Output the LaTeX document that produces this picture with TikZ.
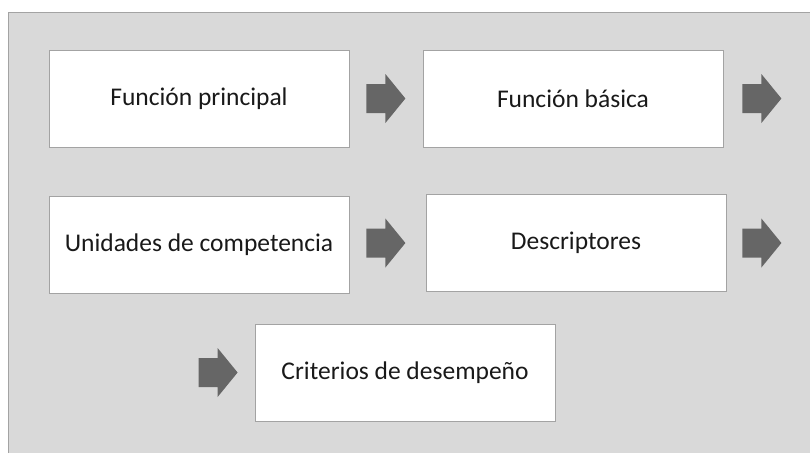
\documentclass[tikz,border=0pt]{standalone}
\usepackage{fontspec}
\setmainfont{Carlito}
\usetikzlibrary{calc}
\definecolor{fondo}{HTML}{D9D9D9}
\definecolor{borde}{HTML}{A3A3A3}
\definecolor{flecha}{HTML}{666666}
\tikzset{
  caja/.style={rectangle, draw=borde, fill=white, line width=0.8pt,
    minimum width=300pt, minimum height=97pt, inner sep=0pt,
    font=\fontsize{25.5}{30}\selectfont, text=black!90},
  bloque/.style={fill=flecha}
}
\begin{document}
\begin{tikzpicture}[x=1pt,y=-1pt]
\useasboundingbox (0,0) rectangle (810,453);
\fill[white] (0,0) rectangle (810,453);
\fill[fondo] (8,12) rectangle (810,453);
\draw[borde,line width=0.8pt] (8,453) -- (8,12) -- (810,12);

\node[caja] (principal) at (199,98.5) {Función principal};
\node[caja] (basica) at (573,98.5) {Función básica};
\node[caja] (unidades) at (199,244.5) {Unidades de competencia};
\node[caja] (descriptores) at (576,243) {Descriptores};
\node[caja] (criterios) at (405,372.5) {Criterios de desempeño};

\coordinate (f1) at ($(principal.east)+(17,0)$);
\coordinate (f2) at ($(basica.east)+(19,0)$);
\coordinate (f3) at ($(unidades.east)+(17,-1.5)$);
\coordinate (f4) at ($(descriptores.east)+(16,0)$);
\coordinate (f5) at ($(criterios.west)+(-56,0)$);

\fill[bloque] (f1) ++(0,-14.5) -- ++(19,0) -- ++(0,-10) -- ++(20,24.5) -- ++(-20,24.5) -- ++(0,-10) -- ++(-19,0) -- cycle;
\fill[bloque] (f2) ++(0,-14.5) -- ++(19,0) -- ++(0,-10) -- ++(20,24.5) -- ++(-20,24.5) -- ++(0,-10) -- ++(-19,0) -- cycle;
\fill[bloque] (f3) ++(0,-14.5) -- ++(19,0) -- ++(0,-10) -- ++(20,24.5) -- ++(-20,24.5) -- ++(0,-10) -- ++(-19,0) -- cycle;
\fill[bloque] (f4) ++(0,-14.5) -- ++(19,0) -- ++(0,-10) -- ++(20,24.5) -- ++(-20,24.5) -- ++(0,-10) -- ++(-19,0) -- cycle;
\fill[bloque] (f5) ++(0,-14.5) -- ++(19,0) -- ++(0,-10) -- ++(20,24.5) -- ++(-20,24.5) -- ++(0,-10) -- ++(-19,0) -- cycle;
\end{tikzpicture}
\end{document}
